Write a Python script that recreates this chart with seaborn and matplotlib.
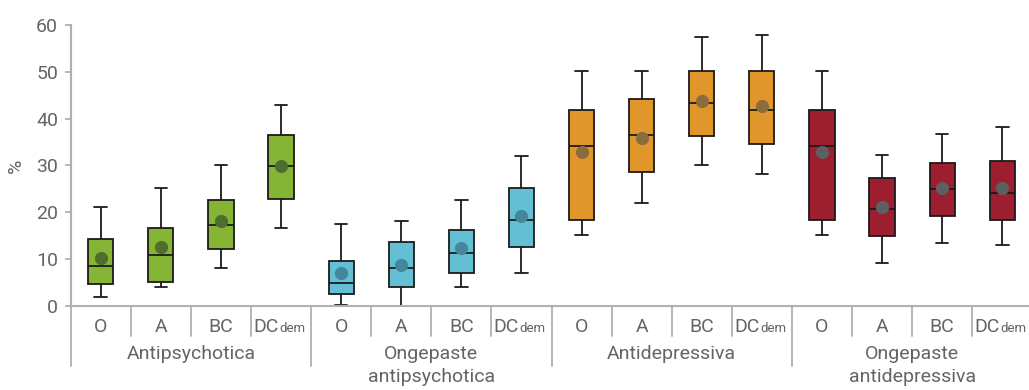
import numpy as np
import pandas as pd
import matplotlib
matplotlib.use("Agg")
import matplotlib.pyplot as plt
import matplotlib.transforms as mtransforms
import seaborn as sns

# ── Data ────────────────────────────────────────────────────
groups = ["Antipsychotica", "Ongepaste\nantipsychotica",
          "Antidepressiva", "Ongepaste\nantidepressiva"]
periods = ["O", "A", "BC", "DC"]

# whisker low, Q1, median, Q3, whisker high, mean — per group, per period
lo_ap   = [1.9, 4.0, 8.1, 16.7]
q1_ap   = [4.6, 5.0, 12.1, 22.9]
med_ap  = [8.4, 10.8, 17.2, 29.9]
q3_ap   = [14.3, 16.6, 22.5, 36.4]
hi_ap   = [21.0, 25.1, 30.0, 43.0]
mean_ap = [10.2, 12.6, 18.1, 29.8]

lo_oap   = [0.1, 0.0, 3.9, 6.9]
q1_oap   = [2.6, 3.9, 6.9, 12.6]
med_oap  = [4.9, 8.0, 11.3, 18.4]
q3_oap   = [9.5, 13.6, 16.1, 25.1]
hi_oap   = [17.4, 18.2, 22.6, 32.1]
mean_oap = [7.0, 8.7, 12.4, 19.2]

lo_ad   = [15.1, 21.9, 30.1, 28.1]
q1_ad   = [18.4, 28.6, 36.2, 34.6]
med_ad  = [34.1, 36.5, 43.4, 41.9]
q3_ad   = [41.8, 44.2, 50.2, 50.2]
hi_ad   = [50.2, 50.2, 57.4, 57.9]
mean_ad = [32.8, 35.8, 43.7, 42.6]

lo_oad   = [15.1, 9.1, 13.4, 12.9]
q1_oad   = [18.4, 15.0, 19.1, 18.4]
med_oad  = [34.1, 20.7, 25.0, 24.1]
q3_oad   = [41.8, 27.3, 30.5, 31.0]
hi_oad   = [50.2, 32.3, 36.8, 38.1]
mean_oad = [32.8, 21.0, 25.2, 25.1]

box_colors  = ["#86B536", "#62BFD4", "#E0962A", "#9C1E2F"]
mean_colors = ["#4E6E2E", "#45879A", "#8A6C3E", "#5B6160"]

stats_by_group = [
    (lo_ap, q1_ap, med_ap, q3_ap, hi_ap, mean_ap),
    (lo_oap, q1_oap, med_oap, q3_oap, hi_oap, mean_oap),
    (lo_ad, q1_ad, med_ad, q3_ad, hi_ad, mean_ad),
    (lo_oad, q1_oad, med_oad, q3_oad, hi_oad, mean_oad),
]

# five-number summaries as rows: with whis=(0, 100) seaborn reproduces them exactly
rows, means = [], []
for g, (lo, q1, med, q3, hi, mn) in zip(groups, stats_by_group):
    for i, p in enumerate(periods):
        key = f"{g}|{p}"
        for v in (lo[i], q1[i], med[i], q3[i], hi[i]):
            rows.append({"key": key, "group": g, "value": v})
        means.append({"key": key, "group": g, "mean": mn[i]})
df = pd.DataFrame(rows)
df_mean = pd.DataFrame(means)
order = list(dict.fromkeys(df["key"]))

# ── Plot ────────────────────────────────────────────────────
sns.set_theme(style="white")
plt.rcParams["font.family"] = ["Roboto", "DejaVu Sans"]
TXT = "#646464"
AXC = "#B0B0B0"
FS = 14

fig = plt.figure(figsize=(10.29, 3.9), dpi=100)
ax = fig.add_axes([70.7 / 1029, 84.3 / 390, 961.6 / 1029, 280.7 / 390])

sns.boxplot(data=df, x="key", y="value", hue="group", order=order,
            palette=dict(zip(groups, box_colors)), dodge=False, legend=False,
            saturation=1, whis=(0, 100), width=0.42, linecolor="#1a1a1a",
            linewidth=1.3, showfliers=False, ax=ax)

for g, c in zip(groups, mean_colors):
    sub = df_mean[df_mean["group"] == g]
    xs = [order.index(k) for k in sub["key"]]
    ax.scatter(xs, sub["mean"], s=90, color=c, zorder=5, linewidths=0)

ax.set_xlim(-0.5, 15.5)
ax.set_ylim(0, 60)
ax.set_yticks(range(0, 61, 10))
ax.tick_params(axis="y", left=True, length=4, width=1.3, color=AXC,
               labelsize=FS, labelcolor=TXT, pad=5)
ax.set_xticks([])
ax.set_xlabel("")
ax.set_ylabel("%", fontsize=FS, color=TXT, labelpad=8)
for s in ["top", "right"]:
    ax.spines[s].set_visible(False)
for s in ["left", "bottom"]:
    ax.spines[s].set_color(AXC)
    ax.spines[s].set_linewidth(1.5)

# two-level category axis
trans = mtransforms.blended_transform_factory(ax.transData, ax.transAxes)
px = 1 / 280.7
for j in range(17):
    x = j - 0.5
    depth = 60 if j % 4 == 0 else 30
    ax.plot([x, x], [0, -depth * px], transform=trans, color=AXC,
            lw=1.3, clip_on=False)

for gi, g in enumerate(groups):
    for i, p in enumerate(periods):
        x = gi * 4 + i
        if p == "DC":
            ax.text(x - 0.04, -21 * px, "DC", transform=trans, ha="right",
                    va="center", fontsize=FS, color=TXT)
            ax.text(x - 0.03, -23 * px, "dem", transform=trans, ha="left",
                    va="center", fontsize=9.5, color=TXT)
        else:
            ax.text(x, -21 * px, p, transform=trans, ha="center",
                    va="center", fontsize=FS, color=TXT)
    ax.text(gi * 4 + 1.5, -39 * px, g, transform=trans, ha="center",
            va="top", fontsize=FS, color=TXT, linespacing=1.35)

fig.savefig("out.png", dpi=100)
